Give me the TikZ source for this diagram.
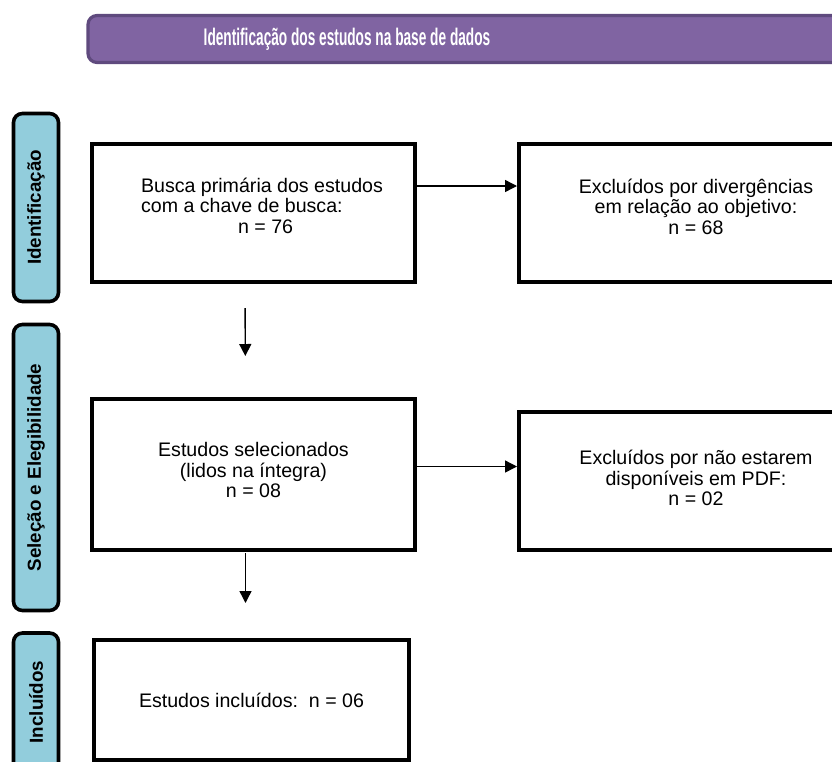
\documentclass[tikz,border=0pt]{standalone}
\usepackage{fontspec}
\setmainfont{Liberation Sans}
\usetikzlibrary{arrows.meta}
\definecolor{roxo}{HTML}{8064A2}
\definecolor{roxoborda}{HTML}{5F4A7E}
\definecolor{azul}{HTML}{92CDDC}

\begin{document}
\begin{tikzpicture}[x=1pt,y=-1pt,
    caixa/.style={draw=black, line width=4pt, fill=white, inner sep=0pt,
        align=center, font=\fontsize{19.6}{20.5}\selectfont},
    etapa/.style={draw=black, line width=3.6pt, fill=azul, rounded corners=9pt,
        minimum width=45pt, inner sep=0pt},
    etapatexto/.style={rotate=90, font=\fontsize{18.8}{18}\selectfont\bfseries},
    seta/.style={line width=1.4pt, -{Triangle[length=12pt,width=12pt]}}]
        \useasboundingbox (0,0) rectangle (832,761);
        % Titulo
        \node[draw=roxoborda, line width=3.2pt, fill=roxo, rounded corners=9pt,
            minimum width=770pt, minimum height=47pt] (titulo) at (473,39) {};
        \node[text=white, font=\fontsize{24}{24}\selectfont\bfseries] (titulotexto) at (347,39)
            {\scalebox{0.57}[1]{Identificação dos estudos na base de dados}};
        % Etapas
        \node[etapa, minimum height=188pt] (ident) at (36,207.5) {};
        \node[etapatexto] at (ident) {Identificação};
        \node[etapa, minimum height=286pt] (selec) at (36,467.5) {};
        \node[etapatexto] at (selec) {Seleção e Elegibilidade};
        \node[etapa, minimum height=138pt] (incl) at (36,702) {};
        \node[etapatexto] at (incl) {Incluídos};
        % Caixas
        \node[caixa, minimum width=323pt, minimum height=138pt, align=left] (busca) at (253,213)
            {\hspace*{18pt}Busca primária dos estudos\\\hspace*{18pt}com a chave de busca:\\\hspace*{115pt}n = 76\rule[-15pt]{0pt}{1pt}};
        \node[caixa, minimum width=354pt, minimum height=138pt] (excl1) at (696,213)
            {Excluídos por divergências\\em relação ao objetivo:\\n = 68\rule[-13pt]{0pt}{1pt}};
        \node[caixa, minimum width=323pt, minimum height=151pt] (selecionados) at (253.5,474.5)
            {Estudos selecionados\\(lidos na íntegra)\\n = 08\rule[-9pt]{0pt}{1pt}};
        \node[caixa, minimum width=354pt, minimum height=138pt] (excl2) at (696,481)
            {Excluídos por não estarem\\disponíveis em PDF:\\n = 02\rule[-6pt]{0pt}{1pt}};
        \node[caixa, minimum width=315pt, minimum height=120pt] (incluidos) at (251.5,700)
            {Estudos incluídos:\ \ n = 06};
        % Setas
        \draw[seta] ([yshift=27pt]busca.east) -- ([yshift=27pt]busca.east -| excl1.west);
        \draw[seta] ([yshift=8pt]selecionados.east) -- ([yshift=8pt]selecionados.east -| excl2.west);
        \draw[seta, shorten <=24pt, shorten >=41pt] ([xshift=-8pt]busca.south) -- ([xshift=-8pt]selecionados.north);
        \draw[seta, shorten <=1pt, shorten >=35pt] ([xshift=-8pt]selecionados.south) -- ([xshift=-6pt]incluidos.north);
\end{tikzpicture}
\end{document}
